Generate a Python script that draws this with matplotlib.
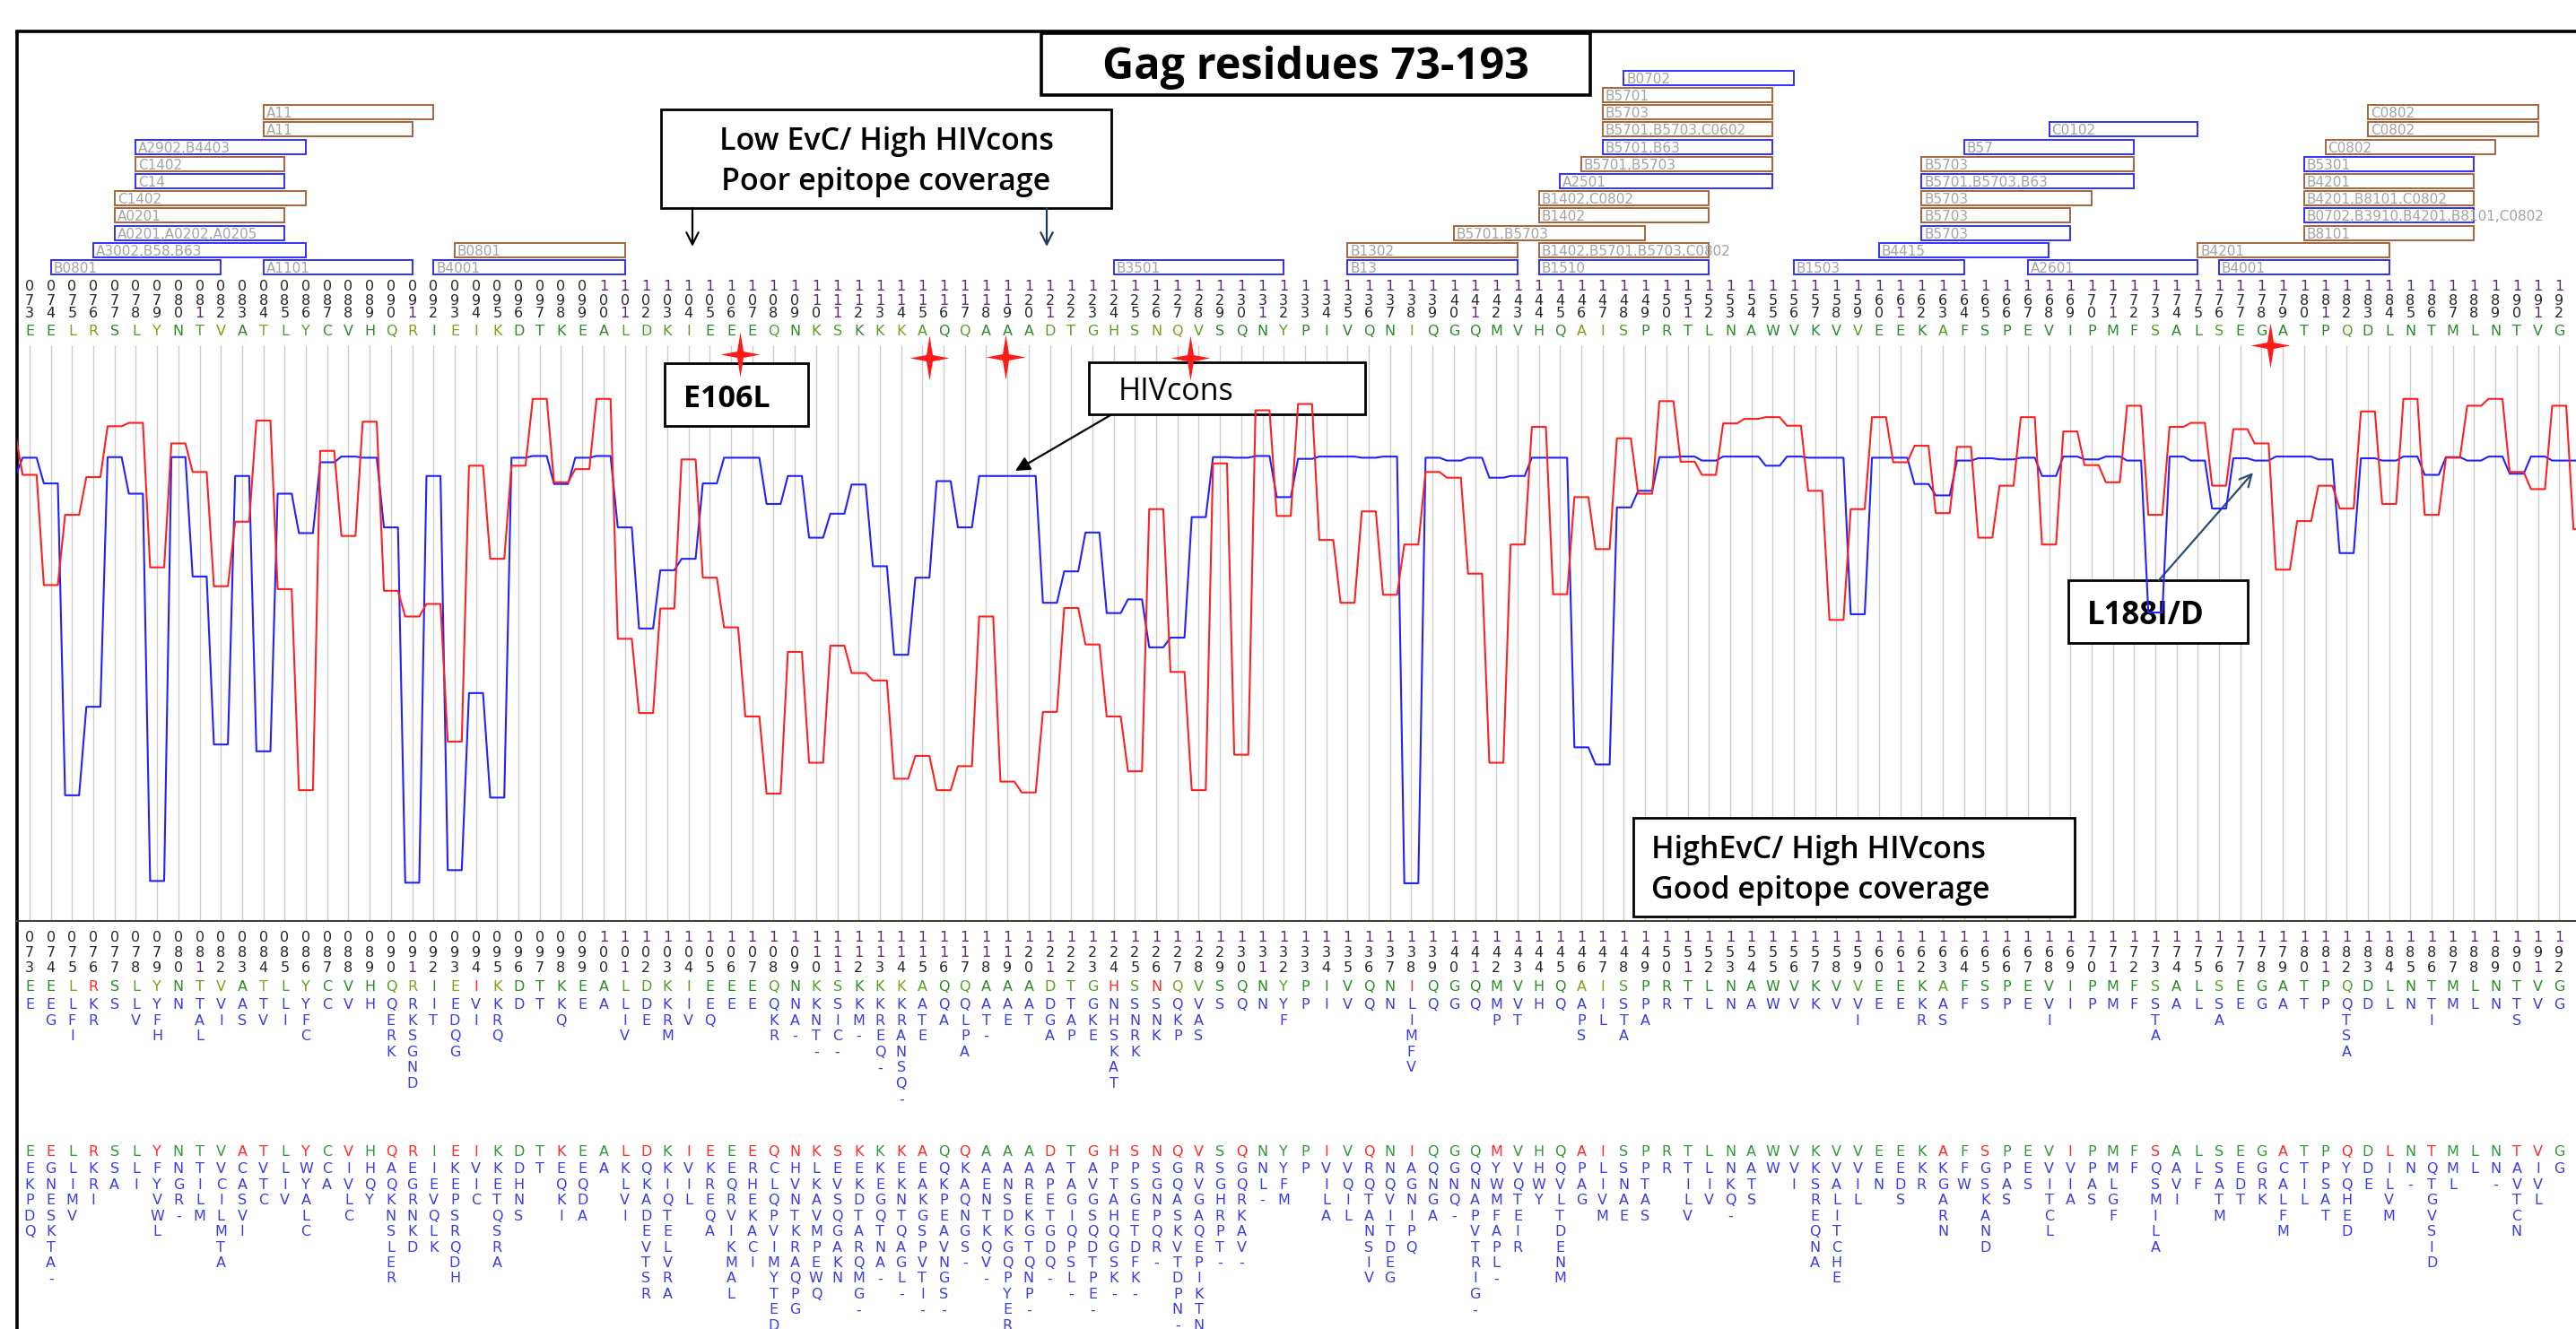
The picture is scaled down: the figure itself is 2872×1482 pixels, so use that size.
import numpy as np
import matplotlib.pyplot as plt
from matplotlib.patches import Rectangle
from matplotlib.path import Path

# --- data ---------------------------------------------------------------
residues = list(range(73, 194))
consensus = ("EELRSLYNTVATLYCVHQRIEIKDTKEALDKIEEEQNKSKK"
             "KAQQAAADTGHSNQVSQNYPIVQNIQGQMVHQAISPRT"
             "LNAWVKVVEEKAFSPEVIPMFSALSEGATPQDLNTMLNTVGG")

# line positions (72 is the partial step at the left edge)
line_res = list(range(72, 194))
evc = [85.4,
       78.1, 58.8, 71.1, 77.7, 86.6, 87.2, 61.9, 83.6, 78.6, 58.6,
       69.9, 87.6, 58.1, 22.9, 82.3, 67.4, 87.4, 57.8, 53.3, 55.5,
       31.4, 79.7, 63.4, 79.7, 91.4, 76.8, 79.1, 91.4, 49.4, 36.4,
       54.7, 80.8, 60.1, 51.4, 35.8, 22.3, 47.1, 27.7, 48.2, 43.4,
       42.1, 24.9, 28.9, 22.9, 27.1, 53.3, 24.4, 22.5, 36.6, 54.8,
       48.4, 35.8, 26.2, 72.1, 43.6, 22.9, 80.1, 29.1, 89.4, 70.9,
       90.5, 66.7, 55.7, 71.7, 57.1, 65.9, 78.6, 77.6, 60.8, 27.7,
       65.9, 86.5, 57.2, 74.2, 65.1, 84.5, 74.8, 91.0, 80.4, 78.1,
       87.1, 87.9, 88.2, 86.7, 75.3, 52.7, 72.1, 88.2, 80.3, 83.2,
       71.4, 83.0, 67.1, 76.2, 88.2, 65.9, 85.7, 79.8, 76.8, 90.2,
       71.1, 86.5, 87.2, 76.2, 86.1, 83.6, 61.5, 70.0, 76.2, 72.2,
       89.2, 73.0, 91.4, 71.1, 81.1, 90.2, 91.4, 78.6, 75.6, 90.2,
       68.6]
hivcons = [77.8,
           81.1, 76.6, 22.0, 37.5, 81.2, 74.8, 7.0, 81.2, 60.3, 30.9,
           77.9, 29.7, 74.8, 67.9, 80.3, 81.3, 81.1, 68.9, 6.7, 77.9,
           8.9, 39.9, 21.6, 81.1, 81.4, 76.5, 81.1, 81.4, 68.9, 51.2,
           61.4, 63.4, 76.6, 81.1, 81.1, 73.0, 77.9, 67.1, 71.3, 76.4,
           62.1, 46.6, 60.1, 77.0, 68.9, 77.9, 77.9, 77.9, 55.7, 61.2,
           68.0, 53.9, 56.3, 47.9, 49.6, 70.7, 81.2, 81.1, 81.4, 74.2,
           80.9, 81.3, 81.3, 81.1, 81.3, 6.6, 81.1, 80.6, 81.1, 77.6,
           77.9, 81.1, 81.1, 30.4, 27.4, 72.4, 75.3, 81.2, 81.3, 80.6,
           81.3, 81.3, 79.7, 81.3, 81.1, 81.1, 53.7, 81.1, 81.1, 76.5,
           74.5, 80.6, 81.0, 80.8, 81.1, 77.9, 81.3, 80.8, 81.3, 80.6,
           54.0, 81.3, 80.6, 72.2, 81.0, 80.6, 81.3, 81.3, 80.8, 64.4,
           81.0, 80.6, 81.3, 78.1, 81.2, 80.6, 81.3, 78.3, 81.3, 80.6,
           80.6]

# variant stacks per residue (first letter = most common)
block_a = [
    "E", "EG", "LFI", "KR", "S", "LV", "YFH", "N", "TAL", "VI",
    "AS", "TV", "LI", "YFC", "C", "V", "H", "QERK", "RKSGND", "IT",
    "EDQG", "VI", "KRQ", "D", "T", "KQ", "E", "A", "LIV", "DE",
    "KRM", "IV", "EQ", "E", "E", "QKR", "NA-", "KNT-", "SIC-", "KM-",
    "KREQ-", "KRANSQ-", "ATE", "QA", "QLPA", "AT-", "AE", "AT", "DGA", "TAP",
    "GKE", "NHSKAT", "SNRK", "SNK", "QKP", "VAS", "S", "Q", "N", "YF",
    "P", "I", "V", "Q", "N", "LIMFV", "Q", "G", "Q", "MP",
    "VT", "H", "Q", "APS", "IL", "STA", "PA", "R", "T", "L",
    "N", "A", "W", "V", "K", "V", "VI", "E", "E", "KR",
    "AS", "F", "S", "P", "E", "VI", "I", "P", "M", "F",
    "STA", "A", "L", "SA", "E", "G", "A", "T", "P", "QTSA",
    "D", "L", "N", "TI", "M", "L", "N", "TS", "V", "G",
    "G"]
block_b = [
    "EKPDQ", "GNESKTA-", "LIMV", "KRI", "SA", "LI", "FYVWL", "NGR-", "TILM", "VCILMTA",
    "CASVI", "VTC", "LIV", "WYALC", "CA", "IVLC", "HQY", "AQKNSLER", "EGRNKD", "IEVQLK",
    "KEPSRQDH", "VIC", "KETQSRA", "DHNS", "T", "EQKI", "EQDA", "A", "KLVI", "QKADEVTSR",
    "KIQTELVRA", "VIL", "KREQA", "EQRVIKMAL", "RHEKACI", "CLQPVIMYTED", "HVNTKRAQPG",
    "LKAVMPEWQ", "EVSQGAKN", "EKDTARQMG-",
    "KEGQTNA-", "EKNTQAGL-", "EAKGSPVTI-", "QKPEAVNGS-", "KAQNGS-", "AENTKQV-",
    "ANSDKGQPYER", "AREKGTQNP-", "APETGDQ-", "TAGIQPSL-",
    "AVGSQDTPE-", "PTAHQGSK-", "PSGETDFK-", "SGNPQR-", "GQASKVTDPN-", "RVGAQEPIKTN",
    "SGHRPT-", "GQRKAV-", "NL-", "YFM",
    "P", "VILA", "VQIL", "RQTANSIV", "NQVITDEG", "AGNIPQ", "QNGA", "GNQ-", "QNAPVTRIG-", "YWMFAPL-",
    "VQTEIR", "HWY", "QVLTDENM", "PAG", "LIVM", "SNAE", "PTAS", "R", "TILV", "LIV",
    "NKQ-", "ATS", "W", "VI", "KSREQNA", "VALITCHE", "VIL", "EN", "EDS", "KR",
    "KGARN", "FW", "GSKAND", "PAS", "ES", "VITCL", "VIA", "PAS", "MLGF", "F",
    "QSMILA", "AVI", "LF", "SATM", "EDT", "GRK", "CALFM", "TIL", "PSAT", "YQHED",
    "DE", "ILVM", "N-", "QTGVSID", "ML", "L", "N-", "AVTCN", "IVL", "G",
    "G"]

# HLA epitopes: label, first residue, last residue, stack row, colour kind
epi_labels = ["B0801", "A3002,B58,B63", "A0201,A0202,A0205", "A0201", "C1402", "C14",
              "C1402", "A2902,B4403", "A11", "A11", "A1101", "B4001", "B0801",
              "B3501", "B13", "B1302", "B1510", "B1402,B5701,B5703,C0802", "B5701,B5703",
              "B1402", "B1402,C0802", "A2501", "B5701,B5703", "B5701,B63",
              "B5701,B5703,C0602", "B5703", "B5701", "B0702",
              "B1503", "B4415", "B5703", "B5703", "B5703", "B5701,B5703,B63", "B5703",
              "B57", "C0102", "A2601", "B4201", "B4001", "B8101",
              "B0702,B3910,B4201,B8101,C0802", "B4201,B8101,C0802", "B4201", "B5301",
              "C0802", "C0802", "C0802"]
epi_start = [74, 76, 77, 77, 77, 78, 78, 78, 84, 84, 84, 92, 93,
             124, 135, 135, 144, 144, 140, 144, 144, 145, 146, 147, 147, 147, 147, 148,
             156, 160, 162, 162, 162, 162, 162, 164, 168, 167, 175, 176, 180,
             180, 180, 180, 180, 181, 183, 183]
epi_end = [82, 86, 85, 85, 86, 85, 85, 86, 91, 92, 91, 101, 101,
           132, 143, 143, 152, 152, 149, 152, 152, 155, 155, 155, 155, 155, 155, 156,
           164, 168, 169, 169, 170, 172, 172, 172, 175, 175, 184, 184, 188,
           188, 188, 188, 188, 189, 191, 191]
epi_row = [0, 1, 2, 3, 4, 5, 6, 7, 8, 9, 0, 0, 1,
           0, 0, 1, 0, 1, 2, 3, 4, 5, 6, 7, 8, 9, 10, 11,
           0, 1, 2, 3, 4, 5, 6, 7, 8, 0, 1, 0, 2,
           3, 4, 5, 6, 7, 8, 9]
epi_kind = ["b", "b", "b", "o", "o", "b", "o", "b", "o", "o", "b", "b", "o",
            "b", "b", "o", "b", "o", "o", "o", "o", "b", "o", "b", "o", "o", "o", "b",
            "b", "b", "b", "o", "o", "b", "o", "b", "b", "b", "o", "b", "o",
            "b", "o", "o", "b", "o", "o", "o"]

star_res = [106.4, 115.3, 118.9, 127.6, 178.4]
star_y = [395, 399, 398, 399, 385]


# --- layout helpers (figure is 2872 x 1482 px) ----------------------------
def px2c(px):
    return 73 + (px - 33) / 23.7


fig = plt.figure(figsize=(28.72, 14.82), dpi=100)
bg = fig.add_axes([0, 0, 1, 1])
bg.set_xlim(px2c(0), px2c(2872))
bg.set_ylim(1482, 0)
bg.axis("off")

ax = fig.add_axes([19 / 2872, (1482 - 1027) / 1482, (2872 - 19) / 2872, (1027 - 390) / 1482])
ax.set_xlim(px2c(19), px2c(2872))
ax.set_ylim(0, 100)
ax.axis("off")

# frame and grid
bg.vlines(residues, 385, 1027, colors="#cdcdcd", lw=1.0, zorder=1)
bg.plot([px2c(19)] * 2, [35, 1482], color="black", lw=2.6, solid_capstyle="butt", zorder=2)
bg.plot([px2c(19), px2c(2872)], [35, 35], color="black", lw=2.6, zorder=2)
bg.plot([px2c(19), px2c(2872)], [1027, 1027], color="#404040", lw=1.5, zorder=2)

# epitope boxes
edge = {"b": "#3030ff", "o": "#a8643c"}
for lab, s, e, row, kind in zip(epi_labels, epi_start, epi_end, epi_row, epi_kind):
    top = 290 - 19.2 * row
    bg.add_patch(Rectangle((s, top), e - s, 16, fill=False, ec=edge[kind], lw=1.4, zorder=2))
    bg.text(s + 0.12, top + 14, lab, family="DejaVu Sans", fontsize=11, color="#a3a3a3",
            ha="left", va="baseline", zorder=3)

# sequence text
seq_font = dict(family="DejaVu Sans", fontsize=11.5, ha="center", va="baseline", zorder=3)
blue_txt = "#3c3ce0"
red_txt = "#ff2a2a"


def green(v):
    if v >= 75:
        return "#2a8c2a"
    if v >= 50:
        return "#55a024"
    return "#8c9c14"


def digit_color(ch):
    return "#5e2a72" if ch == "1" else "#262626"


top_digits = [324.5, 339.5, 354.5]
low_digits = [1050.5, 1067, 1083.5]
for i, r in enumerate(residues):
    d = f"{r:03d}"
    g = green(hivcons[i + 1])
    for k in range(3):
        bg.text(r, top_digits[k], d[k], color=digit_color(d[k]), **seq_font)
        bg.text(r, low_digits[k], d[k], color=digit_color(d[k]), **seq_font)
    aa = consensus[i]
    bg.text(r, 374, aa, color=g, **seq_font)

    stack = block_a[i]
    bg.text(r, 1105, aa, color=red_txt if stack[0] != aa else g, **seq_font)
    for k, ch in enumerate(stack):
        bg.text(r, 1125 + 17.6 * k, ch, color=blue_txt, **seq_font)

    stack = block_b[i]
    bg.text(r, 1289.3, aa, color=red_txt if stack[0] != aa else "#2e9a36", **seq_font)
    for k, ch in enumerate(stack):
        bg.text(r, 1308.3 + 17.45 * k, ch, color=blue_txt, **seq_font)

# EvC / HIVcons step lines
xs = np.repeat(line_res, 2) + np.tile([-0.33, 0.33], len(line_res))
ax.plot(xs, np.repeat(hivcons, 2), color="#2222ff", lw=1.5)
ax.plot(xs, np.repeat(evc, 2), color="#ff2020", lw=1.5)

# stars marking mutated residues
star = Path([(0, 25), (3.5, 3.5), (22, 0), (3.5, -3.5), (0, -25), (-3.5, -3.5),
             (-22, 0), (-3.5, 3.5), (0, 25)], closed=True)
bg.scatter(star_res, star_y, marker=star, s=36 ** 2, c="#ff1a1a", linewidths=0, zorder=6)


# annotation boxes
def box(x0, y0, x1, y1, lw=2.0):
    bg.add_patch(Rectangle((px2c(x0), y0), px2c(x1) - px2c(x0), y1 - y0,
                           fc="white", ec="black", lw=lw, zorder=3))


note = dict(family="Open Sans", va="baseline", zorder=4, color="black")
box(1161, 37, 1773, 106, lw=2.6)
bg.text(px2c(1467), 88, "Gag residues 73-193", ha="center", fontsize=35, fontweight="bold", **note)

box(737, 122, 1239, 232)
bg.text(px2c(988), 167, "Low EvC/ High HIVcons", ha="center", fontsize=24.5, fontweight="semibold", **note)
bg.text(px2c(988), 212, "Poor epitope coverage", ha="center", fontsize=24.5, fontweight="semibold", **note)

box(741, 405, 901, 475)
bg.text(px2c(762), 453.6, "E106L", ha="left", fontsize=24.5, fontweight="bold", **note)

box(1214, 404, 1522, 462)
bg.text(px2c(1247), 446.5, "HIVcons", ha="left", fontsize=24.5, **note)

box(2306, 647, 2506, 717)
bg.text(px2c(2327), 695.7, "L188I/D", ha="left", fontsize=25, fontweight="bold", **note)

box(1821, 912, 2313, 1022)
bg.text(px2c(1841), 957, "HighEvC/ High HIVcons", ha="left", fontsize=24.5, fontweight="semibold", **note)
bg.text(px2c(1841), 1002, "Good epitope coverage", ha="left", fontsize=24.5, fontweight="semibold", **note)

arrow = dict(shrinkA=0, shrinkB=0, lw=1.6, mutation_scale=24)
bg.annotate("", xy=(px2c(772), 275), xytext=(px2c(772), 232),
            arrowprops=dict(arrowstyle="->", color="black", **arrow), zorder=5)
bg.annotate("", xy=(px2c(1167), 275), xytext=(px2c(1167), 232),
            arrowprops=dict(arrowstyle="->", color="#1f3a60", **arrow), zorder=5)
bg.annotate("", xy=(px2c(1132), 525), xytext=(px2c(1238), 463),
            arrowprops=dict(arrowstyle="-|>", color="black", **arrow), zorder=5)
bg.annotate("", xy=(px2c(2512), 527), xytext=(px2c(2407), 647),
            arrowprops=dict(arrowstyle="->", color="#2e4d70", **arrow), zorder=5)

fig.savefig("out.png", dpi=100)
